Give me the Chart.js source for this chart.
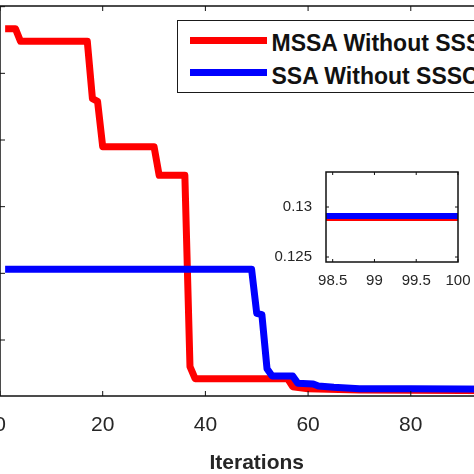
<!DOCTYPE html>
<html>
<head>
<meta charset="utf-8">
<script src="https://cdn.jsdelivr.net/npm/chart.js@4.4.1/dist/chart.umd.min.js"></script>
<style>
html,body{margin:0;padding:0;background:#fff;}
#wrap{position:relative;width:474px;height:474px;overflow:hidden;background:#fff;}
#mainCv{position:absolute;left:-70px;top:0;}
#insetCv{position:absolute;left:270px;top:157px;}
#legend{position:absolute;left:177px;top:20px;width:340px;height:71px;border:1.5px solid #1a1a1a;background:#fff;
  font-family:"Liberation Sans",Arial,sans-serif;font-weight:bold;font-size:23px;color:#111;}
#legend .sw{position:absolute;left:11.5px;width:77px;height:7px;}
#legend .tx{position:absolute;left:93.5px;height:30px;line-height:30px;white-space:nowrap;}
</style>
</head>
<body>
<div id="wrap">
  <canvas id="mainCv" width="610" height="474"></canvas>
  <canvas id="insetCv" width="204" height="138"></canvas>
  <div id="legend"></div>
</div>
<script>
// data
const seriesNames = ['MSSA Without SSSC', 'SSA Without SSSC'];
const seriesColors = ['#ff0000', '#0000ff'];

const mssaIter = [1, 3, 4, 17, 18, 19, 20, 30, 31, 36, 37, 38, 56, 57, 60, 70, 100];
const mssaVal  = [0.1832, 0.1832, 0.1813, 0.1813, 0.1727, 0.1723, 0.1655, 0.1655, 0.1612, 0.1612,
                  0.1325, 0.1307, 0.1307, 0.1295, 0.1292, 0.1290, 0.1289];

const ssaIter = [1, 49, 50, 51, 52, 53, 57, 58, 61, 62, 65, 70, 80, 100];
const ssaVal  = [0.1471, 0.1471, 0.1405, 0.1403, 0.1322, 0.1311, 0.1311, 0.1300, 0.1299, 0.1296,
                 0.1294, 0.1292, 0.1292, 0.1291];

const xTicks = [0, 20, 40, 60, 80, 100];
const yTicks = [0.1365, 0.1465, 0.1565, 0.1665, 0.1765, 0.1865];
const insetXTicks = [98.5, 99, 99.5, 100];
const insetYTicks = [0.125, 0.13];

const FONT = '"Liberation Sans", Arial, sans-serif';
const TXT = '#262626';

function pts(xs, ys) {
  return xs.map((x, i) => ({ x: x, y: ys[i] }));
}

// matlab style box with ticks pointing inward
const boxFrame = {
  id: 'boxFrame',
  beforeDatasetsDraw(chart, args, opts) {
    if (!opts.fill) return;
    const a = chart.chartArea;
    chart.ctx.save();
    chart.ctx.fillStyle = '#fff';
    chart.ctx.fillRect(a.left, a.top, a.width, a.height);
    chart.ctx.restore();
  },
  afterDatasetsDraw(chart, args, opts) {
    const ctx = chart.ctx, a = chart.chartArea;
    const sx = chart.scales.x, sy = chart.scales.y;
    const L = opts.len || 5;
    ctx.save();
    ctx.strokeStyle = '#111';
    ctx.lineWidth = opts.width || 1.5;
    ctx.strokeRect(a.left, a.top, a.width, a.height);
    ctx.lineWidth = 1;
    ctx.beginPath();
    sx.ticks.forEach(t => {
      const p = sx.getPixelForValue(t.value);
      ctx.moveTo(p, a.bottom); ctx.lineTo(p, a.bottom - L);
      ctx.moveTo(p, a.top); ctx.lineTo(p, a.top + L);
    });
    sy.ticks.forEach(t => {
      const p = sy.getPixelForValue(t.value);
      ctx.moveTo(a.left, p); ctx.lineTo(a.left + L, p);
      ctx.moveTo(a.right, p); ctx.lineTo(a.right - L, p);
    });
    ctx.stroke();
    ctx.restore();
  }
};

function makeSets(bw) {
  return [
    { label: seriesNames[0], data: pts(mssaIter, mssaVal), borderColor: seriesColors[0],
      borderWidth: bw, borderJoinStyle: 'round', pointRadius: 0, tension: 0, fill: false, order: 2 },
    { label: seriesNames[1], data: pts(ssaIter, ssaVal), borderColor: seriesColors[1],
      borderWidth: bw, borderJoinStyle: 'round', pointRadius: 0, tension: 0, fill: false, order: 1 }
  ];
}

new Chart(document.getElementById('mainCv'), {
  type: 'line',
  data: { datasets: makeSets(7) },
  options: {
    responsive: false,
    animation: false,
    layout: { padding: { top: 6, right: 19, left: 0, bottom: 0 } },
    plugins: { legend: { display: false }, tooltip: { enabled: false },
      boxFrame: { len: 5, width: 1.5 } },
    scales: {
      x: {
        type: 'linear', min: 0, max: 100,
        afterBuildTicks: s => { s.ticks = xTicks.map(v => ({ value: v })); },
        afterFit: s => { s.height = 78; },
        grid: { display: false }, border: { display: false },
        ticks: { callback: v => String(v), font: { family: FONT, size: 21 }, color: TXT,
          padding: 9, maxRotation: 0, autoSkip: false },
        title: { display: true, text: 'Iterations', color: TXT, padding: 0,
          font: { family: FONT, size: 21, weight: 'bold', lineHeight: 1.0 } }
      },
      y: {
        type: 'linear', min: 0.1281, max: 0.1866,
        afterBuildTicks: s => { s.ticks = yTicks.map(v => ({ value: v })); },
        afterFit: s => { s.width = 70; },
        grid: { display: false }, border: { display: false },
        ticks: { display: false }
      }
    }
  },
  plugins: [boxFrame]
});

new Chart(document.getElementById('insetCv'), {
  type: 'line',
  data: { datasets: makeSets(6) },
  options: {
    responsive: false,
    animation: false,
    layout: { padding: { top: 0, right: 16, left: 0, bottom: 0 } },
    plugins: { legend: { display: false }, tooltip: { enabled: false },
      boxFrame: { len: 3, width: 1.5, fill: true } },
    scales: {
      x: {
        type: 'linear', min: 98.42, max: 100,
        afterBuildTicks: s => { s.ticks = insetXTicks.map(v => ({ value: v })); },
        afterFit: s => { s.height = 33; },
        grid: { display: false }, border: { display: false },
        ticks: { callback: v => String(v), font: { family: FONT, size: 15 }, color: TXT,
          padding: 2, maxRotation: 0, autoSkip: false }
      },
      y: {
        type: 'linear', min: 0.1245, max: 0.1335,
        afterBuildTicks: s => { s.ticks = insetYTicks.map(v => ({ value: v })); },
        afterFit: s => { s.width = 56; },
        grid: { display: false }, border: { display: false },
        ticks: { callback: v => String(v), font: { family: FONT, size: 15 }, color: TXT, padding: 6 }
      }
    }
  },
  plugins: [boxFrame]
});

// legend, drawn as html text
const lg = document.getElementById('legend');
const swTop = [16, 48], txTop = [7, 39.5];
seriesNames.forEach((name, i) => {
  const sw = document.createElement('div');
  sw.className = 'sw';
  sw.style.top = swTop[i] + 'px';
  sw.style.background = seriesColors[i];
  lg.appendChild(sw);
  const tx = document.createElement('div');
  tx.className = 'tx';
  tx.style.top = txTop[i] + 'px';
  tx.textContent = name;
  lg.appendChild(tx);
});
</script>
</body>
</html>
